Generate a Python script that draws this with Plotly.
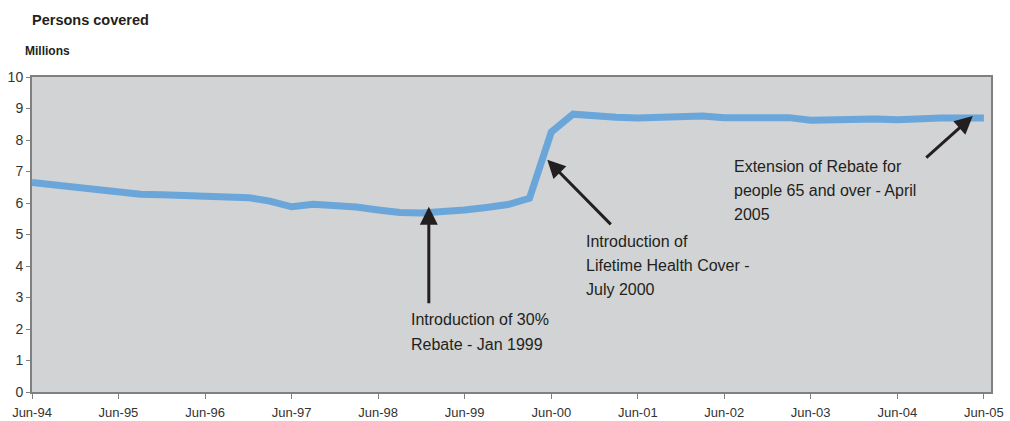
import pandas as pd
import plotly.graph_objects as go

# Quarterly observations, June 1994 to June 2005 (millions of persons)
quarters = pd.date_range("1994-06-01", "2005-06-01", freq="3MS")
persons_covered = [
    6.65, 6.57, 6.54, 6.45, 6.33, 6.28, 6.26, 6.23, 6.20, 6.19, 6.17, 6.06,
    5.88, 5.96, 5.94, 5.87, 5.78, 5.70, 5.68, 5.72, 5.78, 5.86, 5.95, 6.15,
    8.25, 8.82, 8.75, 8.72, 8.70, 8.72, 8.75, 8.76, 8.71, 8.70, 8.74, 8.71,
    8.63, 8.65, 8.68, 8.67, 8.64, 8.68, 8.70, 8.70, 8.70,
]

tick_dates = pd.date_range("1994-06-01", "2005-06-01", freq="12MS")
tick_labels = ["Jun-94", "Jun-95", "Jun-96", "Jun-97", "Jun-98", "Jun-99",
               "Jun-00", "Jun-01", "Jun-02", "Jun-03", "Jun-04", "Jun-05"]

# Policy events: (date pointed at, level on the line, arrow tail offset in px)
events = [
    ("1999-01-01", 5.88, 0, 98),
    ("2000-05-15", 7.37, 65, 66),
    ("2005-04-15", 8.76, -48, 43),
]

# Note text blocks: (paper x, paper y of first line, lines)
notes = [
    (0.393, 0.229, ["Introduction of 30%", "Rebate - Jan 1999"]),
    (0.576, 0.479, ["Introduction of", "Lifetime Health Cover -", "July 2000"]),
    (0.730, 0.717, ["Extension of Rebate for", "people 65 and over - April", "2005"]),
]
LINE_STEP = 0.077  # paper-height between note lines

TEXT = "#231f20"
AXIS = "#808080"
FONT = "Liberation Sans, Arial, sans-serif"

fig = go.Figure()
fig.add_trace(go.Scatter(
    x=quarters, y=persons_covered, mode="lines",
    line=dict(color="#6aa6da", width=7, shape="linear"),
    hoverinfo="skip", showlegend=False,
))

annotations = []
for date, level, ax, ay in events:
    annotations.append(dict(
        x=date, y=level, xref="x", yref="y", text="",
        showarrow=True, arrowhead=2, arrowsize=1.2, arrowwidth=3,
        arrowcolor=TEXT, ax=ax, ay=ay, axref="pixel", ayref="pixel",
        standoff=0,
    ))
for px, py, lines in notes:
    for i, line in enumerate(lines):
        annotations.append(dict(
            x=px, y=py - i * LINE_STEP, xref="paper", yref="paper",
            text=line, showarrow=False, xanchor="left", yanchor="middle",
            font=dict(family=FONT, size=16, color=TEXT),
        ))

# Headings above the plot, positioned by pixel row
plot_top, plot_bottom = 77, 392
plot_left, plot_right = 32, 991


def paper_y(row):
    return (plot_bottom - row) / (plot_bottom - plot_top)


def paper_x(col):
    return (col - plot_left) / (plot_right - plot_left)


annotations.append(dict(
    x=paper_x(30), y=paper_y(20), xref="paper", yref="paper",
    text="<b>Persons covered</b>",
    showarrow=False, xanchor="left", yanchor="middle",
    font=dict(family=FONT, size=14.5, color=TEXT),
))
annotations.append(dict(
    x=paper_x(23), y=paper_y(51), xref="paper", yref="paper",
    text="<b>Millions</b>",
    showarrow=False, xanchor="left", yanchor="middle",
    font=dict(family=FONT, size=12, color=TEXT),
))

fig.update_layout(
    width=1010, height=421,
    margin=dict(l=plot_left, r=1010 - plot_right, t=plot_top,
                b=421 - plot_bottom, pad=0, autoexpand=False),
    paper_bgcolor="white", plot_bgcolor="#d1d3d4",
    font=dict(family=FONT, size=14, color="#333333"),
    annotations=annotations,
    showlegend=False,
)
fig.update_xaxes(
    type="date", range=["1994-06-01", "2005-07-01"],
    tickvals=tick_dates, ticktext=tick_labels,
    ticks="outside", ticklen=5, tickcolor=AXIS, tickwidth=1,
    showline=True, linecolor=AXIS, linewidth=2, mirror=True,
    showgrid=False, zeroline=False, ticklabelstandoff=2,
    tickfont=dict(size=13), automargin=False,
)
fig.update_yaxes(
    range=[0, 10], dtick=1, tick0=0,
    ticks="outside", ticklen=4, tickcolor=AXIS, tickwidth=1,
    showline=True, linecolor=AXIS, linewidth=2, mirror=True,
    showgrid=False, zeroline=False,
    tickfont=dict(size=14), automargin=False,
)

fig.write_html("out.html")
